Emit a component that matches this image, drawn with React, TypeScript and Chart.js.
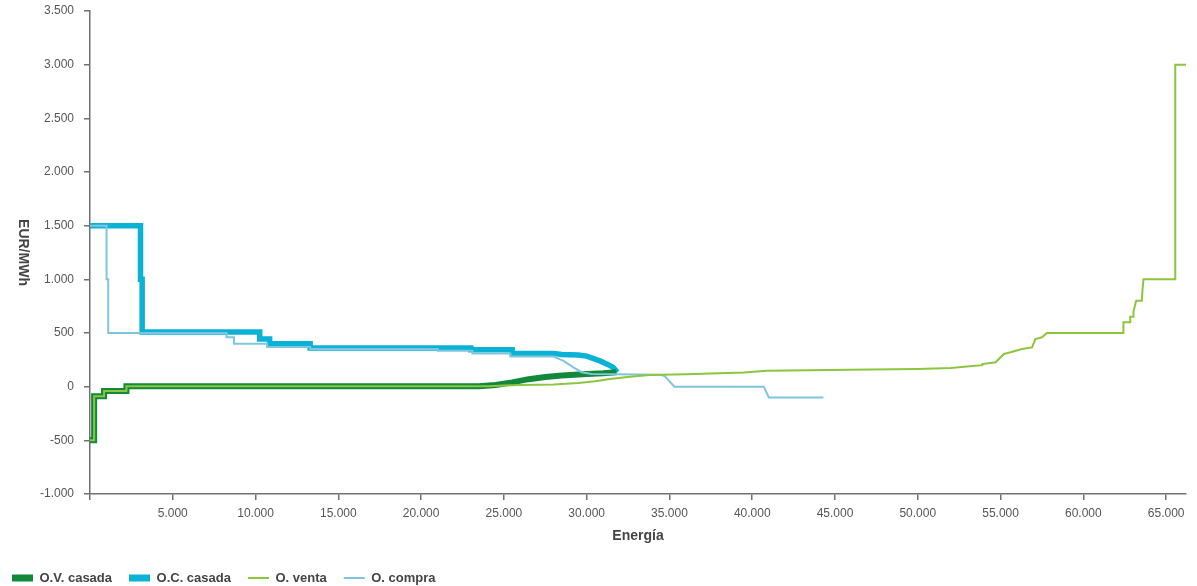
import React, { useEffect, useRef } from 'react';
import { Chart, registerables } from 'chart.js';

Chart.register(...registerables);

// ---- Data ----
const seriesLabels = ['O.V. casada', 'O.C. casada', 'O. venta', 'O. compra'];
const seriesColors = ['#12893a', '#0ab3d6', '#8cc63f', '#80c5df'];

const ovCasadaEnergy = [0, 250, 250, 850, 850, 2200, 2200, 23500, 24500, 25500, 26500, 27500, 28500, 30000, 31000, 31800];
const ovCasadaPrice = [-500, -500, -90, -90, -40, -40, 5, 5, 15, 40, 70, 90, 105, 118, 125, 135];

const ocCasadaEnergy = [0, 3050, 3050, 3150, 3150, 10250, 10250, 10850, 10850, 13300, 13300, 23000, 23000, 25500, 25500, 28000, 28500, 29500, 30000, 30800, 31300, 31600, 31850];
const ocCasadaPrice = [1500, 1500, 1000, 1000, 510, 510, 445, 445, 400, 400, 360, 360, 345, 345, 310, 310, 300, 295, 285, 240, 205, 180, 135];

const ventaEnergy = [0, 250, 250, 850, 850, 2200, 2200, 24000, 25000, 26000, 28000, 29500, 30500, 31400, 32600, 33800, 36000, 39500, 40900, 45900, 50000, 52000, 52800, 53900, 53900, 54700, 55200, 55600, 56300, 56900, 57100, 57500, 57800, 62420, 62420, 62830, 62830, 63030, 63030, 63190, 63530, 63570, 63630, 65550, 65550, 66200];
const ventaPrice = [-500, -500, -90, -90, -40, -40, 5, 5, 10, 15, 20, 35, 50, 72, 93, 108, 115, 133, 148, 158, 165, 174, 186, 200, 211, 227, 305, 320, 351, 366, 444, 460, 500, 500, 600, 600, 652, 652, 702, 800, 800, 895, 1000, 1000, 3000, 3000];

const compraEnergy = [0, 1000, 1000, 1100, 1100, 8250, 8250, 8700, 8700, 10700, 10700, 13300, 13300, 21000, 21000, 23100, 23100, 25400, 25400, 28000, 28600, 29200, 29700, 30300, 34400, 34700, 35300, 40700, 41000, 44300];
const compraPrice = [1500, 1500, 1000, 1000, 500, 500, 460, 460, 400, 400, 370, 370, 350, 350, 335, 335, 310, 310, 280, 280, 240, 180, 135, 118, 112, 100, 0, 0, -100, -100];

const xTickValues = [0, 5000, 10000, 15000, 20000, 25000, 30000, 35000, 40000, 45000, 50000, 55000, 60000, 65000];
const xTickLabels = ['', '5.000', '10.000', '15.000', '20.000', '25.000', '30.000', '35.000', '40.000', '45.000', '50.000', '55.000', '60.000', '65.000'];
const yTickValues = [-1000, -500, 0, 500, 1000, 1500, 2000, 2500, 3000, 3500];
const yTickLabels = ['-1.000', '-500', '0', '500', '1.000', '1.500', '2.000', '2.500', '3.000', '3.500'];

const xTitle = 'Energía';
const yTitle = 'EUR/MWh';

const FONT = '"Liberation Sans", Arial, Helvetica, sans-serif';

const toPoints = (xs: number[], ys: number[]) => xs.map((x, i) => ({ x, y: ys[i] }));

const yTitlePlugin = {
  id: 'yTitleRotated',
  afterDraw(chart: any) {
    const ctx = chart.ctx;
    const ca = chart.chartArea;
    ctx.save();
    ctx.translate(22.5, (ca.top + ca.bottom) / 2);
    ctx.rotate(Math.PI / 2);
    ctx.font = `bold 14px ${FONT}`;
    ctx.fillStyle = '#454545';
    ctx.textAlign = 'center';
    ctx.textBaseline = 'middle';
    ctx.fillText(yTitle, 0, 0);
    ctx.restore();
  },
};

const legendPosPlugin = {
  id: 'legendPos',
  afterLayout(chart: any) {
    const lg = chart.legend;
    if (lg) {
      lg.left = -5;
      lg.top = 554.5;
    }
  },
};

export default function App() {
  const canvasRef = useRef<HTMLCanvasElement | null>(null);

  useEffect(() => {
    if (!canvasRef.current) return;
    const thick = [true, true, false, false];
    const dataSets = [
      toPoints(ovCasadaEnergy, ovCasadaPrice),
      toPoints(ocCasadaEnergy, ocCasadaPrice),
      toPoints(ventaEnergy, ventaPrice),
      toPoints(compraEnergy, compraPrice),
    ];
    const chart = new Chart(canvasRef.current, {
      type: 'line',
      data: {
        datasets: dataSets.map((d, i) => ({
          label: seriesLabels[i],
          data: d,
          borderColor: seriesColors[i],
          backgroundColor: seriesColors[i],
          borderWidth: thick[i] ? (i === 0 ? 6 : 5.5) : 2,
          pointRadius: 0,
          pointHoverRadius: 0,
          tension: 0,
          fill: false,
          order: thick[i] ? 2 : 1,
          borderJoinStyle: 'miter' as const,
        })),
      },
      options: {
        responsive: false,
        animation: false,
        events: [],
        parsing: false as any,
        layout: { padding: { left: 0, right: 11, top: 11, bottom: 0 } },
        plugins: {
          tooltip: { enabled: false },
          title: { display: false },
          legend: {
            display: true,
            position: 'bottom',
            align: 'start',
            labels: {
              usePointStyle: true,
              pointStyleWidth: 21,
              boxHeight: 7,
              padding: 17,
              color: '#444',
              font: { family: FONT, size: 13, weight: 'bold' },
              generateLabels: (c: any) =>
                c.data.datasets.map((ds: any, i: number) => ({
                  text: ds.label,
                  fillStyle: ds.borderColor,
                  strokeStyle: ds.borderColor,
                  lineWidth: thick[i] ? 0 : 2,
                  pointStyle: thick[i] ? 'rect' : 'line',
                  hidden: false,
                  datasetIndex: i,
                  fontColor: '#444',
                })),
            },
          },
        },
        scales: {
          x: {
            type: 'linear',
            min: 0,
            max: 66200,
            afterBuildTicks: (axis: any) => {
              axis.ticks = xTickValues.map((v) => ({ value: v }));
            },
            afterFit: (axis: any) => {
              axis.height = 52;
              axis.paddingLeft = 0;
              axis.paddingRight = 0;
            },
            ticks: {
              padding: 6,
              color: '#555',
              font: { family: FONT, size: 12 },
              maxRotation: 0,
              autoSkip: false,
              callback: (value: any) => {
                const idx = xTickValues.indexOf(Number(value));
                return idx >= 0 ? xTickLabels[idx] : '';
              },
            },
            grid: {
              display: true,
              drawOnChartArea: false,
              drawTicks: true,
              tickLength: 6,
              color: '#707070',
              lineWidth: 1.5,
            },
            border: { display: true, color: '#707070', width: 1.5 },
            title: {
              display: true,
              text: xTitle,
              color: '#454545',
              font: { family: FONT, size: 14, weight: 'bold' },
              padding: { top: 0, bottom: 1 },
            },
          },
          y: {
            type: 'linear',
            min: -1000,
            max: 3500,
            afterBuildTicks: (axis: any) => {
              axis.ticks = yTickValues.map((v) => ({ value: v }));
            },
            afterFit: (axis: any) => {
              axis.width = 90;
              axis.paddingTop = 0;
              axis.paddingBottom = 0;
            },
            ticks: {
              padding: 10,
              color: '#555',
              font: { family: FONT, size: 12 },
              autoSkip: false,
              callback: (value: any) => {
                const idx = yTickValues.indexOf(Number(value));
                return idx >= 0 ? yTickLabels[idx] : '';
              },
            },
            grid: {
              display: true,
              drawOnChartArea: false,
              drawTicks: true,
              tickLength: 6,
              color: '#707070',
              lineWidth: 1.5,
            },
            border: { display: true, color: '#707070', width: 1.5 },
            title: { display: false },
          },
        },
      },
      plugins: [yTitlePlugin, legendPosPlugin],
    } as any);
    return () => chart.destroy();
  }, []);

  return (
    <div style={{ position: 'absolute', left: 0, top: 0, width: 1197, height: 586, background: '#fff' }}>
      <canvas ref={canvasRef} width={1197} height={586} style={{ display: 'block', width: 1197, height: 586 }} />
    </div>
  );
}
